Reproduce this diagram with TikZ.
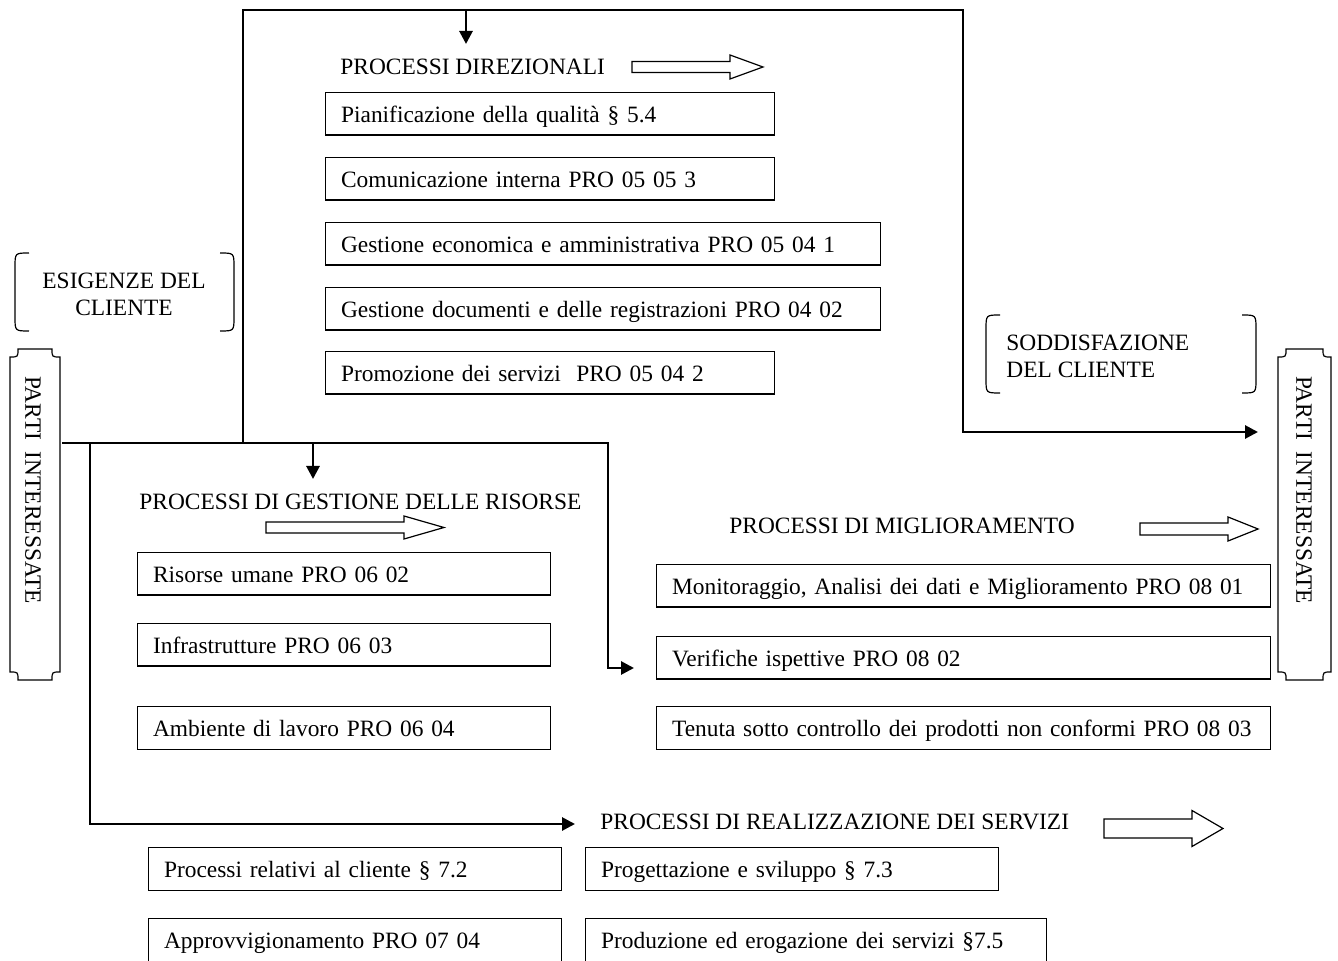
\documentclass[tikz,border=0pt]{standalone}
\usepackage{fontspec}
\setmainfont{Liberation Serif}
\usetikzlibrary{arrows.meta}
\usetikzlibrary{positioning}

\begin{document}
\begin{tikzpicture}[x=0.5pt,y=-0.5pt,
    every node/.style={font=\fontsize{11.7}{13.4}\selectfont},
    frame/.style={line width=1.4pt,-{Triangle[length=6.5pt,width=6.5pt]}},
    procbox/.style={draw,line width=0.6pt,anchor=north west,inner xsep=7.75pt,inner ysep=0pt,minimum height=21.25pt,
                    text height=8.6pt,text depth=0pt,align=left},
    head/.style={anchor=base west,inner sep=0pt}]
      \useasboundingbox (0,0) rectangle (1338,961);
      \draw[frame] (243,443) coordinate (g1) -- (243,10) coordinate (t1) -- (963,10) coordinate (t2)
                   -- (963,432) -- (1258,432) coordinate (sodd);
      \draw[frame] (466,10) coordinate (t3) -- (466,44) coordinate (dirin);
      \draw[frame] (62,443) coordinate (g0) -- (608,443) coordinate (g2) -- (608,668) -- (634,668) coordinate (migin);
      \draw[frame] (313,443) coordinate (g3) -- (313,479) coordinate (gesin);
      \draw[frame] (90,443) coordinate (g4) -- (90,824) -- (575,824) coordinate (reain);
      \foreach\xa/\xb/\yy/\hl/\sh/\hh in {632/763/67/33/5.5/12, 266/444/527.5/40/5.5/11.5,
                                          1140/1258/529/30/6/12, 1104/1223/828.5/31/9.5/18} {
	\draw[line width=0.6pt] (\xa,\yy-\sh) -- (\xb-\hl,\yy-\sh) -- (\xb-\hl,\yy-\hh) -- (\xb,\yy)
	  -- (\xb-\hl,\yy+\hh) -- (\xb-\hl,\yy+\sh) -- (\xa,\yy+\sh) -- cycle;
      }
      \foreach\xa/\xb/\ya/\yb in {15/234/253/331, 986/1256/315/393} {
	\draw[line width=0.6pt] (\xa+14,\ya) .. controls (\xa,\ya) .. (\xa,\ya+14) -- (\xa,\yb-14)
	  .. controls (\xa,\yb) .. (\xa+14,\yb);
	\draw[line width=0.6pt] (\xb-14,\ya) .. controls (\xb,\ya) .. (\xb,\ya+14) -- (\xb,\yb-14)
	  .. controls (\xb,\yb) .. (\xb-14,\yb);
      }
      \foreach\xa/\xb in {10/60, 1278/1331} {
	\draw[line width=0.6pt] (\xa+8,349) -- (\xb-8,349) .. controls (\xb-8,357) .. (\xb,357) -- (\xb,672)
	  .. controls (\xb-8,672) .. (\xb-8,680) -- (\xa+8,680) .. controls (\xa+8,672) .. (\xa,672)
	  -- (\xa,357) .. controls (\xa+8,357) .. cycle;
      }
      \node[rotate=-90,inner sep=0pt] (partisx) at (33,490) {PARTI\ \ INTERESSATE};
      \node[rotate=-90,inner sep=0pt] (partidx) at (1304,490) {PARTI\ \ INTERESSATE};
      \node[align=center,inner sep=0pt] (esig) at (124,294) {ESIGENZE DEL\\CLIENTE};
      \node[align=left,anchor=west,inner sep=0pt] (soddcl) at (1006,356) {SODDISFAZIONE\\DEL CLIENTE};
      \node[head] (dir) at (340,75) {PROCESSI DIREZIONALI};
      \node[head] (ges) at (139,510) {PROCESSI DI GESTIONE DELLE RISORSE};
      \node[head] (mig) at (729,534) {PROCESSI DI MIGLIORAMENTO};
      \node[head] (rea) at (600,829) {PROCESSI DI REALIZZAZIONE DEI SERVIZI};
      \node[procbox,text width=209pt] (pian) at (325,92) {Pianificazione della qualità § 5.4};
      \node[procbox,text width=209pt] (comu) at (325,157) {Comunicazione interna PRO 05 05 3};
      \node[procbox,text width=262pt] (econ) at (325,222) {Gestione economica e amministrativa PRO 05 04 1};
      \node[procbox,text width=262pt] (docu) at (325,287) {Gestione documenti e delle registrazioni PRO 04 02};
      \node[procbox,text width=209pt] (prom) at (325,351) {Promozione dei servizi\ \ PRO 05 04 2};
      \node[procbox,text width=191pt] (umane) at (137,552) {Risorse umane PRO 06 02};
      \node[procbox,text width=191pt] (infra) at (137,623) {Infrastrutture PRO 06 03};
      \node[procbox,text width=191pt] (ambi) at (137,706) {Ambiente di lavoro PRO 06 04};
      \node[procbox,text width=291.5pt] (moni) at (656,564) {Monitoraggio, Analisi dei dati e Miglioramento PRO 08 01};
      \node[procbox,text width=291.5pt] (veri) at (656,636) {Verifiche ispettive PRO 08 02};
      \node[procbox,text width=291.5pt] (tenu) at (656,706) {Tenuta sotto controllo dei prodotti non conformi PRO 08 03};
      \node[procbox,text width=191pt] (clie) at (148,847) {Processi relativi al cliente § 7.2};
      \node[procbox,text width=191pt] (prog) at (585,847) {Progettazione e sviluppo § 7.3};
      \node[procbox,text width=191pt] (appr) at (148,918) {Approvvigionamento PRO 07 04};
      \node[procbox,text width=215pt] (prod) at (585,918) {Produzione ed erogazione dei servizi §7.5};
    \end{tikzpicture}
\end{document}
